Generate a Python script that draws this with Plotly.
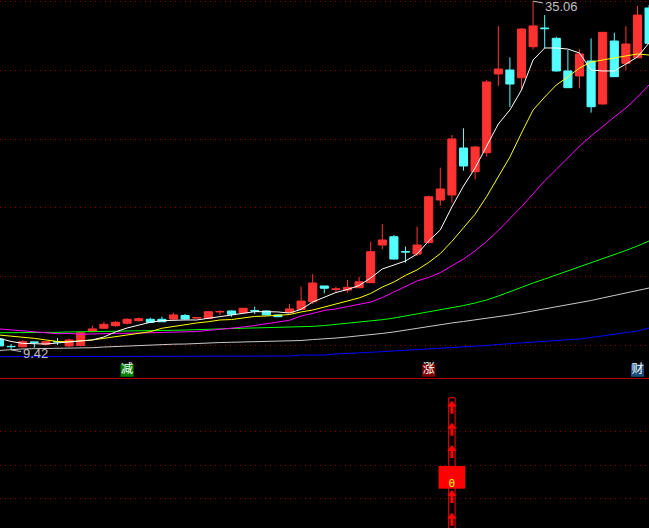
import plotly.graph_objects as go

idx = list(range(57))

opens = [10.22, 9.68, 9.65, 10.00, 9.83, 10.04, 9.71, 9.74, 10.76, 11.01,
         11.20, 11.38, 11.57, 11.67, 11.67, 11.69, 11.95, 11.76, 11.74, 12.21,
         12.28, 12.15, 12.32, 12.28, 11.99, 12.17, 12.40, 12.96, 14.12, 13.86,
         13.82, 13.99, 14.36, 17.13, 17.74, 16.65, 16.47, 17.32, 20.44, 20.81,
         24.26, 22.52, 23.92, 29.71, 30.00, 29.43, 31.71, 33.09, 32.33, 29.93,
         29.56, 30.66, 27.50, 32.13, 30.49, 30.90, 34.56]
highs = [10.37, 9.85, 10.15, 10.01, 10.07, 10.29, 10.26, 10.74, 11.20, 11.49,
         11.54, 11.74, 11.80, 11.79, 11.86, 12.15, 12.06, 11.84, 12.24, 12.35,
         12.32, 12.50, 12.60, 12.35, 12.02, 12.79, 14.07, 14.99, 14.12, 14.07,
         14.56, 14.80, 17.38, 18.68, 17.87, 17.01, 18.48, 20.77, 22.82, 25.22,
         25.71, 24.41, 29.26, 33.24, 30.93, 33.09, 35.06, 34.04, 32.45, 31.47,
         31.52, 32.33, 32.79, 32.74, 33.24, 34.71, 34.78]
lows = [9.63, 9.42, 9.60, 9.58, 9.78, 9.78, 9.63, 9.67, 10.74, 10.96,
        11.14, 11.29, 11.51, 11.43, 11.47, 11.65, 11.65, 11.73, 11.73, 11.99,
        11.86, 12.13, 12.06, 11.95, 11.84, 12.13, 12.39, 12.79, 13.58, 13.63,
        13.63, 13.97, 14.34, 16.82, 16.07, 15.83, 16.32, 17.21, 20.02, 20.24,
        22.60, 21.96, 23.63, 28.82, 27.28, 28.53, 31.52, 31.60, 29.87, 28.68,
        28.65, 26.86, 27.46, 29.49, 30.00, 30.88, 31.91]
closes = [9.71, 9.66, 10.02, 9.98, 10.02, 10.01, 10.15, 10.68, 10.96, 11.30,
          11.45, 11.67, 11.71, 11.45, 11.49, 11.99, 11.69, 11.80, 12.23, 12.24,
          12.04, 12.48, 12.28, 11.99, 11.86, 12.43, 13.01, 14.34, 13.95, 13.90,
          14.02, 14.43, 16.64, 17.50, 16.10, 16.62, 17.13, 20.68, 21.25, 24.93,
          22.94, 24.34, 29.12, 30.07, 28.97, 33.01, 33.24, 33.04, 29.93, 28.70,
          31.18, 27.30, 32.77, 29.51, 31.91, 34.04, 31.96]

ma_white = [10.26, 10.04, 9.90, 9.85, 9.85, 9.93, 10.02, 10.07, 10.15, 10.37,
            10.74, 11.03, 11.25, 11.45, 11.57, 11.62, 11.62, 11.62, 11.74, 11.86,
            11.99, 12.11, 12.23, 12.23, 12.21, 12.13, 12.40, 12.94, 13.31, 13.64,
            13.86, 14.15, 14.71, 15.37, 15.66, 15.96, 16.47, 17.43, 18.24, 19.93,
            21.47, 22.79, 24.41, 26.03, 27.06, 28.53, 30.74, 31.62, 31.62, 31.54,
            31.25, 30.00, 29.93, 29.93, 30.44, 30.96, 31.99]
ma_yellow = [10.51, 10.44, 10.35, 10.27, 10.15, 10.04, 10.02, 10.07, 10.15, 10.27,
             10.39, 10.51, 10.64, 10.76, 11.01, 11.14, 11.29, 11.40, 11.49, 11.62,
             11.65, 11.76, 11.88, 11.91, 11.95, 12.02, 12.21, 12.35, 12.57, 12.79,
             12.98, 13.24, 13.57, 14.04, 14.41, 14.90, 15.30, 15.85, 16.50, 17.40,
             18.40, 19.40, 20.70, 22.10, 23.60, 25.37, 27.06, 28.01, 28.90, 29.49,
             30.15, 30.59, 30.74, 30.85, 31.03, 31.18, 31.10]
ma_magenta = [10.96, 10.88, 10.81, 10.76, 10.64, 10.61, 10.63, 10.57, 10.59, 10.63,
              10.64, 10.64, 10.64, 10.68, 10.70, 10.71, 10.74, 10.77, 10.85, 10.92,
              10.99, 11.10, 11.21, 11.36, 11.47, 11.60, 11.91, 12.10, 12.32, 12.43,
              12.61, 12.76, 12.94, 13.27, 13.68, 14.12, 14.49, 14.75, 15.10, 15.60,
              16.10, 16.70, 17.40, 18.20, 19.05, 19.95, 20.90, 21.85, 22.70, 23.55,
              24.40, 25.15, 25.88, 26.54, 27.21, 28.01, 28.90]
ma_green = [10.68, 10.68, 10.68, 10.70, 10.70, 10.71, 10.74, 10.74, 10.76, 10.77,
            10.79, 10.81, 10.81, 10.82, 10.83, 10.86, 10.88, 10.92, 10.94, 10.97,
            10.99, 11.01, 11.03, 11.05, 11.07, 11.09, 11.12, 11.15, 11.21, 11.29,
            11.36, 11.43, 11.52, 11.64, 11.76, 11.91, 12.06, 12.21, 12.35, 12.50,
            12.68, 12.87, 13.09, 13.38, 13.71, 14.04, 14.34, 14.63, 14.93, 15.22,
            15.51, 15.81, 16.10, 16.40, 16.73, 17.06, 17.43]
ma_gray = [9.38, 9.45, 9.49, 9.51, 9.52, 9.54, 9.54, 9.56, 9.58, 9.63,
           9.67, 9.71, 9.73, 9.76, 9.82, 9.84, 9.85, 9.90, 9.93, 9.96,
           9.98, 10.00, 10.02, 10.04, 10.06, 10.07, 10.11, 10.18, 10.22, 10.29,
           10.37, 10.44, 10.51, 10.63, 10.74, 10.88, 10.99, 11.14, 11.25, 11.40,
           11.51, 11.62, 11.73, 11.84, 11.99, 12.13, 12.28, 12.43, 12.57, 12.72,
           12.87, 13.05, 13.24, 13.42, 13.60, 13.79, 13.97]
ma_blue = [8.92] * 19 + [8.97] * 7 + [9.04, 9.04, 9.04,
           9.12, 9.15, 9.19, 9.23, 9.29, 9.34, 9.39, 9.41, 9.45, 9.51, 9.54,
           9.60, 9.65, 9.74, 9.82, 9.87, 9.93, 9.99, 10.04, 10.11, 10.15,
           10.22, 10.33, 10.44, 10.55, 10.66, 10.81, 11.03]

price_grid = [9.73, 14.80, 19.90, 24.90, 29.95, 35.02]

high_label = "35.06"
high_idx = 46
low_label = "9.42"
low_idx = 1

tag_idx = [11, 37, 55]
tag_text = ["减", "涨", "财"]
tag_bg = ["#008000", "#800000", "#1a4a7a"]
tag_level = 7.92

# lower indicator panel
sig_idx = 39
arrow_tops = [3.934, 3.278, 2.612, 1.940, 1.269, 0.591]
column_top = 4.02
column_bottom = 0.0
box_low = 1.307
box_high = 1.985
sig_value = "0"
sig_text_level = 1.448
lower_grid = [1, 2, 3]

UP = "#ff3232"
DN = "#54ffff"
GRID = "#8c0000"

fig = go.Figure()

fig.add_trace(go.Candlestick(
    x=idx, open=opens, high=highs, low=lows, close=closes,
    increasing=dict(line=dict(color=UP, width=1), fillcolor=UP),
    decreasing=dict(line=dict(color=DN, width=1), fillcolor=DN),
    whiskerwidth=0, xaxis="x", yaxis="y", hoverinfo="skip"))

for vals, col in [(ma_blue, "#0000ff"), (ma_gray, "#c8c8c8"), (ma_green, "#00ff00"),
                  (ma_magenta, "#ff00ff"), (ma_yellow, "#ffff00"), (ma_white, "#ffffff")]:
    fig.add_trace(go.Scatter(x=idx, y=vals, mode="lines",
                             line=dict(color=col, width=1),
                             xaxis="x", yaxis="y", hoverinfo="skip"))

# tags
fig.add_trace(go.Scatter(
    x=tag_idx, y=[tag_level] * len(tag_idx), mode="markers+text",
    marker=dict(symbol="square", size=13, color=tag_bg, line=dict(width=0)),
    text=tag_text, textposition="middle center",
    textfont=dict(family="Noto Sans CJK SC", size=12, color="#ffffff"),
    xaxis="x", yaxis="y", hoverinfo="skip"))

# lower panel: hollow column
fig.add_trace(go.Bar(
    x=[sig_idx], y=[column_top - column_bottom], base=[column_bottom], width=0.55,
    marker=dict(color="rgba(0,0,0,0)", line=dict(color="#ff0000", width=1)),
    xaxis="x2", yaxis="y2", hoverinfo="skip"))

# arrows: shafts + heads
shaft_x, shaft_y = [], []
for t in arrow_tops:
    shaft_x += [sig_idx, sig_idx, None]
    shaft_y += [t - 0.17, t - 0.39, None]
fig.add_trace(go.Scatter(x=shaft_x, y=shaft_y, mode="lines",
                         line=dict(color="#ff0000", width=3),
                         xaxis="x2", yaxis="y2", hoverinfo="skip"))
fig.add_trace(go.Scatter(x=[sig_idx] * len(arrow_tops), y=[t - 0.12 for t in arrow_tops],
                         mode="markers",
                         marker=dict(symbol="triangle-up", size=8, color="#ff0000",
                                     line=dict(width=0)),
                         xaxis="x2", yaxis="y2", hoverinfo="skip"))

# filled box
fig.add_trace(go.Bar(
    x=[sig_idx], y=[box_high - box_low], base=[box_low], width=2.3,
    marker=dict(color="#ff0000", line=dict(width=0)),
    xaxis="x2", yaxis="y2", hoverinfo="skip"))
fig.add_trace(go.Scatter(
    x=[sig_idx], y=[sig_text_level], mode="text", text=[sig_value],
    textposition="middle center",
    textfont=dict(family="DejaVu Sans Mono", size=11, color="#ffff00"),
    xaxis="x2", yaxis="y2", hoverinfo="skip"))

xr = [0.0431, 55.991]
top_dom = [1 - 378 / 528, 1]
bot_dom = [0, 149 / 528]

fig.update_layout(
    width=649, height=528,
    margin=dict(l=0, r=0, t=0, b=0),
    paper_bgcolor="#000000", plot_bgcolor="#000000",
    showlegend=False, barmode="overlay",
    boxgap=0.3, boxgroupgap=0,
    xaxis=dict(domain=[0, 1], range=xr, anchor="y", showgrid=False, zeroline=False,
               showticklabels=False, ticks="", rangeslider=dict(visible=False),
               showline=False, fixedrange=True),
    yaxis=dict(domain=top_dom, range=[7.353, 35.147], tickvals=price_grid,
               showgrid=True, gridcolor=GRID, griddash="1px,4px", gridwidth=1,
               zeroline=False, showticklabels=False, ticks="", fixedrange=True),
    xaxis2=dict(domain=[0, 1], range=xr, anchor="y2", showgrid=False, zeroline=False,
                showticklabels=False, ticks="", fixedrange=True),
    yaxis2=dict(domain=bot_dom, range=[0.134, 4.58], tickvals=lower_grid,
                showgrid=True, gridcolor=GRID, griddash="1px,4px", gridwidth=1,
                zeroline=False, showticklabels=False, ticks="", fixedrange=True),
    shapes=[dict(type="line", xref="paper", yref="paper", x0=0, x1=1,
                 y0=1 - 378.5 / 528, y1=1 - 378.5 / 528,
                 line=dict(color="#b00000", width=1))],
    annotations=[
        dict(x=high_idx, y=highs[high_idx], xref="x", yref="y", text=high_label,
             showarrow=True, ax=28, ay=5, arrowhead=0, arrowwidth=1,
             arrowcolor="#c0c0c0", standoff=0, startstandoff=0,
             font=dict(family="Liberation Sans", size=13, color="#c0c0c0")),
        dict(x=low_idx, y=lows[low_idx], xref="x", yref="y", text=low_label,
             showarrow=True, ax=24, ay=4, arrowhead=0, arrowwidth=1,
             arrowcolor="#c0c0c0", standoff=0, startstandoff=0,
             font=dict(family="Liberation Sans", size=13, color="#c0c0c0")),
    ],
)

fig.write_html("out.html", config={"displayModeBar": False},
               post_script="document.body.style.margin='0';")
